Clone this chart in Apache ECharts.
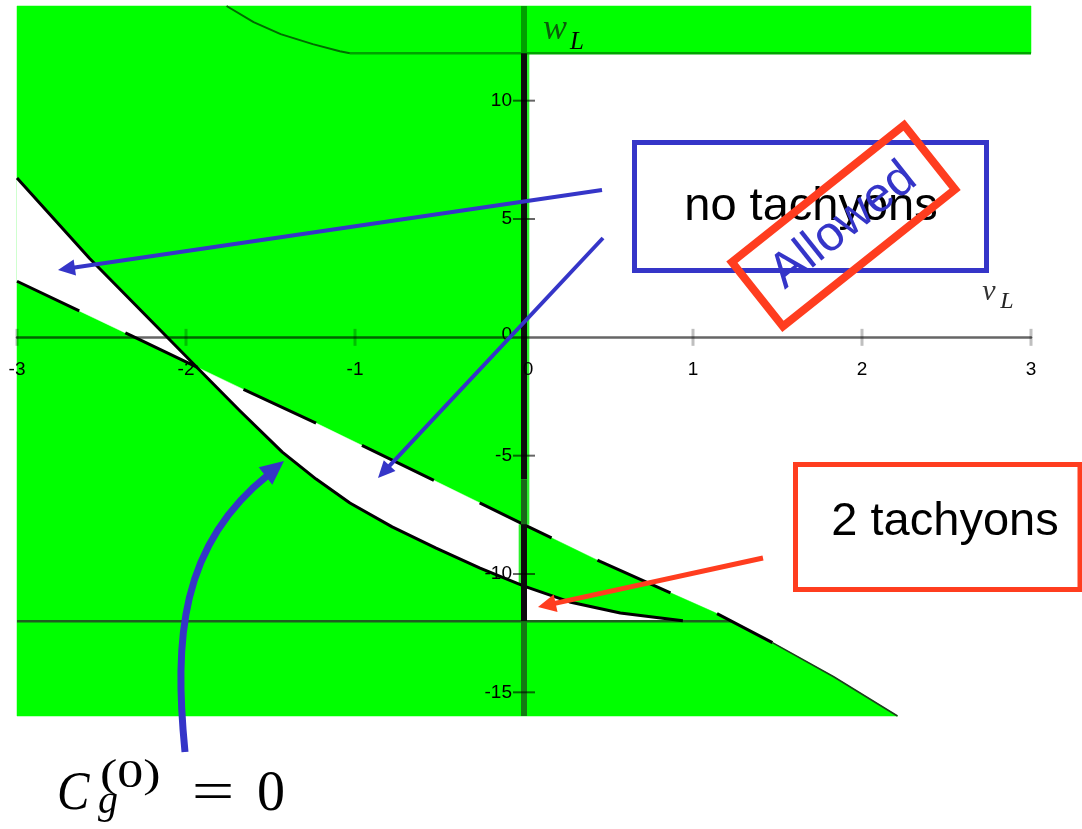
<!DOCTYPE html>
<html>
<head>
<meta charset="utf-8">
<script src="https://cdn.jsdelivr.net/npm/echarts@6/dist/echarts.min.js"></script>
<style>
  html, body { margin: 0; padding: 0; background: #ffffff; }
  #chart { width: 1082px; height: 829px; }
</style>
</head>
<body>
<div id="chart"></div>
<script>
// ---- axis ranges and tick labels ----
const vRange = [-3, 3];
const wRange = [-16, 14];
const xTickValues = [-3, -2, -1, 0, 1, 2, 3];
const yTickValues = [10, 5, 0, -5, -10, -15];

// ---- C_g^(0) = 0 curve (solid) ----
const cgV = [-3, -2.57, -1.92, -1.68, -1.43, -1.23, -1.03, -0.78, -0.52, -0.26, 0, 0.27, 0.57, 0.94];
const cgW = [6.73, 3.33, -1.38, -3.11, -4.85, -5.99, -7.0, -8.01, -8.91, -9.75, -10.51, -11.18, -11.65, -11.98];

// ---- tachyon boundary (dashed) ----
const bdV = [-3, -2.33, -1.66, -1.24, -0.52, 0, 0.45, 1.13, 1.47, 1.83, 2.21];
const bdW = [2.37, 0.09, -2.2, -3.59, -6.09, -7.91, -9.47, -11.63, -12.9, -14.33, -16];

// ---- upper-left curve running into w_L = 12 ----
const topV = [-1.76, -1.60, -1.44, -1.25, -1.09, -1.03];
const topW = [14, 13.32, 12.81, 12.39, 12.09, 12];

// ---- horizontal levels ----
const wUpper = 12;
const wLower = -12;

const GREEN = '#00ff00';
const BLUE = '#3535c8';
const RED = '#ff3d1f';

const toPts = (vs, ws) => vs.map((v, i) => [v, ws[i]]);
const S = toPts(cgV, cgW);
const D = toPts(bdV, bdW);
const T = toPts(topV, topW);

function wAt(line, v) {
  for (let i = 0; i < line.length - 1; i++) {
    const a = line[i], b = line[i + 1];
    if (v >= a[0] && v <= b[0]) return a[1] + (b[1] - a[1]) * (v - a[0]) / (b[0] - a[0]);
  }
  return line[line.length - 1][1];
}
function vAtW(line, w) {
  for (let i = 0; i < line.length - 1; i++) {
    const a = line[i], b = line[i + 1];
    if ((a[1] - w) * (b[1] - w) <= 0) return a[0] + (b[0] - a[0]) * (w - a[1]) / (b[1] - a[1]);
  }
  return line[line.length - 1][0];
}

const [vMin, vMax] = vRange;
const [wMin, wMax] = wRange;
const sLeft = S.filter(p => p[0] <= 0);
const sRight = S.filter(p => p[0] >= 0);
const dLeft = D.filter(p => p[0] <= 0);
const dRight = D.filter(p => p[0] >= 0);
const sEnd = sRight[sRight.length - 1];
const dEnd = D[D.length - 1];
const d0 = wAt(D, 0);
const s0 = wAt(S, 0);
const strip = 0.03;

// filled regions (green = tachyonic side), drawn in order
const regions = [
  { fill: GREEN, pts: [[vMin, wMin], [0, wMin], [0, wMax], [vMin, wMax]] },
  { fill: GREEN, pts: [[0, wUpper], [vMax, wUpper], [vMax, wMax], [0, wMax]] },
  { fill: GREEN, pts: [...dRight, [dEnd[0], wMin], [0, wMin]] },
  { fill: '#ffffff', pts: [...sLeft, ...dLeft.slice().reverse()] },
  { fill: '#ffffff', pts: [...sRight, [sEnd[0], wLower], [0, wLower]] },
  { fill: '#2ef22e', pts: [[0, d0], [strip, d0], [strip, wUpper], [0, wUpper]] },
  { fill: '#2ef22e', pts: [[-strip, s0], [0, s0], [0, d0], [-strip, d0]] }
];

const lowerEnd = vAtW(D, wLower);
const curves = [
  { pts: T, stroke: '#006b00', width: 2 },
  { pts: [[topV[topV.length - 1], wUpper], [vMax, wUpper]], stroke: '#00a300', width: 2.5 },
  { pts: [[vMin, wLower], [lowerEnd, wLower]], stroke: '#1f5f1f', width: 2.5 },
  { pts: S, stroke: '#000000', width: 3 },
  { pts: D.filter(p => p[0] <= 1.47), stroke: '#000000', width: 3, dash: [80, 51], dashOffset: 11 },
  { pts: D.filter(p => p[0] >= 1.47), stroke: '#1c3f1c', width: 1.6 },
  // vertical axis v_L = 0
  { pts: [[0, wMax], [0, wUpper]], stroke: '#00a000', width: 6 },
  { pts: [[0, wUpper], [0, -6]], stroke: '#0c0c0c', width: 6 },
  { pts: [[0, -6], [0, d0]], stroke: '#1a6a1a', width: 6 },
  { pts: [[0, d0], [0, wLower]], stroke: '#0c0c0c', width: 6 },
  { pts: [[0, wLower], [0, wMin]], stroke: '#137a13', width: 6 }
];

const sans = '"Liberation Sans", Arial, Helvetica, sans-serif';
const serif = '"Liberation Serif", "DejaVu Serif", serif';

// tick marks and their labels on both axes
const ticks = [
  ...xTickValues.map(v => ({ at: [v, 0], dir: 'v', text: String(v) })),
  ...yTickValues.map(w => ({ at: [0, w], dir: 'h', text: String(w) }))
];

function shapeSeries(items, z, closed) {
  return {
    type: 'custom', coordinateSystem: 'cartesian2d', z, silent: true, animation: false,
    data: items.map(() => [0, 0]),
    renderItem: (params, api) => {
      const it = items[params.dataIndex];
      const points = it.pts.map(p => api.coord(p));
      if (closed) {
        return { type: 'polygon', shape: { points }, style: { fill: it.fill, stroke: it.fill, lineWidth: 0.5 } };
      }
      return {
        type: 'polyline', shape: { points },
        style: { fill: null, stroke: it.stroke, lineWidth: it.width, lineDash: it.dash || null, lineDashOffset: it.dashOffset || 0, lineJoin: 'round' }
      };
    }
  };
}

const tickSeries = {
  type: 'custom', coordinateSystem: 'cartesian2d', z: 6, silent: true, animation: false,
  data: ticks.map(() => [0, 0]),
  renderItem: (params, api) => {
    const t = ticks[params.dataIndex];
    const p = api.coord(t.at);
    const children = [];
    const isZero = t.text === '0';
    if (t.dir === 'v') {
      if (!isZero) {
        children.push({ type: 'line', shape: { x1: p[0], y1: p[1] - 8.5, x2: p[0], y2: p[1] + 8.5 }, style: { stroke: 'rgba(0,0,0,0.25)', lineWidth: 3 } });
      }
      children.push({ type: 'text', x: p[0] + (isZero ? 4 : 0), y: p[1] + 32,
        style: { text: t.text, fontSize: 19, fontFamily: sans, fill: '#000', align: 'center', verticalAlign: 'middle' } });
    } else {
      if (!isZero) {
        children.push({ type: 'line', shape: { x1: p[0] - 11, y1: p[1], x2: p[0] + 11, y2: p[1] }, style: { stroke: 'rgba(0,0,0,0.6)', lineWidth: 2 } });
      }
      children.push({ type: 'text', x: p[0] - 12, y: p[1] - (isZero ? 3 : 0),
        style: { text: t.text, fontSize: 19, fontFamily: sans, fill: '#000', align: 'right', verticalAlign: 'middle' } });
    }
    return { type: 'group', children };
  }
};

function arrow(x1, y1, x2, y2, color, width, headLen, headHalf) {
  const dx = x2 - x1, dy = y2 - y1, L = Math.hypot(dx, dy), ux = dx / L, uy = dy / L;
  const bx = x2 - ux * headLen, by = y2 - uy * headLen;
  return [
    { type: 'line', z: 110, shape: { x1, y1, x2: bx + ux * 2, y2: by + uy * 2 }, style: { stroke: color, lineWidth: width } },
    { type: 'polygon', z: 111, shape: { points: [[x2, y2], [bx - uy * headHalf, by + ux * headHalf], [bx + uy * headHalf, by - ux * headHalf]] }, style: { fill: color } }
  ];
}

function label(text, x, y, size, opts) {
  return Object.assign({
    type: 'text', z: 120, x, y,
    style: Object.assign({
      text, fontSize: size, fontFamily: sans, fill: '#000',
      align: 'center', verticalAlign: 'middle', textAlign: 'center', textVerticalAlign: 'middle'
    }, (opts && opts.style) || {})
  }, (opts && opts.el) || {});
}

const graphics = [
  // axis names
  label('w', 555, 30, 36, { style: { fontFamily: serif, fontStyle: 'italic', fill: '#0b5d0b' } }),
  label('L', 577, 42, 25, { style: { fontFamily: serif, fontStyle: 'italic' } }),
  label('v', 989, 292, 30, { style: { fontFamily: serif, fontStyle: 'italic', fill: '#333' } }),
  label('L', 1007, 302, 24, { style: { fontFamily: serif, fontStyle: 'italic', fill: '#222' } }),

  // "no tachyons" box
  { type: 'rect', z: 100, shape: { x: 634.5, y: 142.5, width: 352, height: 128 }, style: { fill: 'none', stroke: BLUE, lineWidth: 5 } },
  label('no tachyons', 811, 207, 47),

  // rotated "Allowed" stamp
  {
    type: 'group', x: 843.5, y: 225.75, rotation: 38.5 * Math.PI / 180, z: 130,
    children: [
      { type: 'rect', z: 130, shape: { x: -110, y: -41, width: 220, height: 82 }, style: { fill: 'none', stroke: RED, lineWidth: 8 } },
      { type: 'text', z: 131, x: 0, y: 0, style: { text: 'Allowed', fontSize: 49, fontFamily: sans, fill: BLUE, align: 'center', verticalAlign: 'middle', textAlign: 'center', textVerticalAlign: 'middle' } }
    ]
  },

  // "2 tachyons" box
  { type: 'rect', z: 100, shape: { x: 795.5, y: 464.5, width: 284.5, height: 125 }, style: { fill: 'none', stroke: RED, lineWidth: 5 } },
  label('2 tachyons', 945, 522, 47),

  // pointers
  ...arrow(602, 190, 58, 270, BLUE, 4, 17, 8),
  ...arrow(603, 238, 378, 478, BLUE, 4, 17, 8),
  ...arrow(763, 558, 538, 607, RED, 5, 18, 9),

  // curved pointer to the C_g^(0) = 0 curve
  { type: 'bezierCurve', z: 110, shape: { x1: 185, y1: 752, cpx1: 174, cpy1: 640, cpx2: 180, cpy2: 545, x2: 268, y2: 475 }, style: { fill: 'none', stroke: BLUE, lineWidth: 7 } },
  { type: 'polygon', z: 111, shape: { points: [[284, 461], [272.3, 484.8], [258.7, 467.2]] }, style: { fill: BLUE } },

  // C_g^(0) = 0
  label('C', 57, 795, 54, { style: { fontFamily: serif, fontStyle: 'italic', align: 'left', textAlign: 'left' }, el: { scaleX: 0.9 } }),
  label('(0)', 100, 776, 40, { style: { fontFamily: serif, align: 'left', textAlign: 'left' }, el: { scaleX: 1.3 } }),
  label('g', 98, 802, 40, { style: { fontFamily: serif, fontStyle: 'italic', align: 'left', textAlign: 'left' } }),
  label('=', 213, 795, 56, { style: { fontFamily: serif }, el: { scaleX: 1.35 } }),
  label('0', 257, 795, 56, { style: { fontFamily: serif, align: 'left', textAlign: 'left' } })
];

const chart = echarts.init(document.getElementById('chart'), null, { renderer: 'canvas' });
chart.setOption({
  animation: false,
  backgroundColor: '#ffffff',
  grid: { left: 17, right: 51, top: 6, bottom: 113, containLabel: false, outerBoundsMode: 'none' },
  xAxis: {
    type: 'value', min: vMin, max: vMax, interval: 1, z: 5,
    axisLine: { show: true, onZero: true, lineStyle: { color: 'rgba(0,0,0,0.6)', width: 2.5 } },
    axisTick: { show: false },
    splitLine: { show: false },
    axisLabel: { show: false }
  },
  yAxis: {
    type: 'value', min: wMin, max: wMax, z: 5,
    axisLine: { show: false, onZero: true },
    axisTick: { show: false },
    splitLine: { show: false },
    axisLabel: { show: false }
  },
  series: [
    shapeSeries(regions, 1, true),
    shapeSeries(curves, 2, false),
    tickSeries
  ],
  graphic: { elements: graphics }
});
</script>
</body>
</html>
